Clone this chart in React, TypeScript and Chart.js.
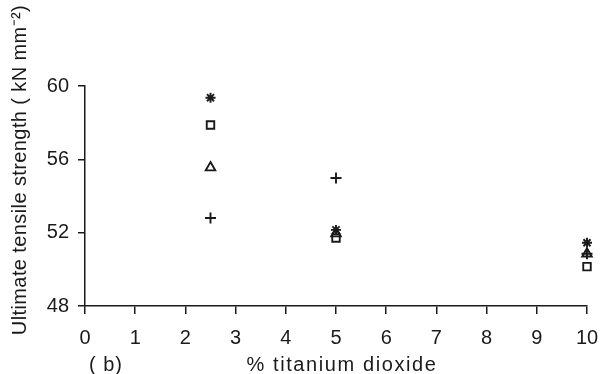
import React, { useEffect, useRef } from "react";
import { Chart, registerables } from "chart.js";

Chart.register(...registerables);

const xValues = [2.5, 5, 10];
const asteriskValues = [59.36, 52.15, 51.45];
const squareValues = [57.87, 51.71, 50.15];
const triangleValues = [55.55, 51.95, 50.85];
const plusValues = [52.8, 54.98, 50.85];

const xTicks = [0, 1, 2, 3, 4, 5, 6, 7, 8, 9, 10];
const yTicks = [48, 52, 56, 60];

const xTitle = "% titanium dioxide";
const yTitle = "Ultimate tensile strength ( kN mm\u207B\u00B2)";
const panelLabel = "( b)";

const FONT = "'Liberation Sans', Arial, Helvetica, sans-serif";
const INK = "#1a1a1a";

const pts = (ys: number[]) => xValues.map((x, i) => ({ x, y: ys[i] }));

export default function App() {
  const ref = useRef<HTMLCanvasElement | null>(null);

  useEffect(() => {
    if (!ref.current) return;
    const textPlugin = {
      id: "titles",
      afterDraw(chart: any) {
        const ctx = chart.ctx;
        const area = chart.chartArea;
        ctx.save();
        ctx.fillStyle = INK;
        ctx.textBaseline = "middle";
        ctx.font = `20px ${FONT}`;
        ctx.textAlign = "left";
        (ctx as any).letterSpacing = "1px";
        ctx.fillText(panelLabel, 89, 365);
        ctx.textAlign = "center";
        (ctx as any).letterSpacing = "1.6px";
        ctx.fillText(xTitle, (area.left + area.right) / 2 + 6, 365);
        (ctx as any).letterSpacing = "0.4px";
        ctx.translate(20, (area.top + area.bottom) / 2 - 26);
        ctx.rotate(-Math.PI / 2);
        ctx.fillText(yTitle, 0, 0);
        ctx.restore();
      },
    };
    const mk = (label: string, data: number[], style: any, r: number) => ({
      label,
      data: pts(data),
      pointStyle: style,
      pointRadius: r,
      pointBorderColor: INK,
      pointBackgroundColor: "rgba(0,0,0,0)",
      pointBorderWidth: 1.9,
      showLine: false,
      clip: false,
    });
    const chart = new Chart(ref.current, {
      type: "scatter",
      data: {
        datasets: [
          mk("asterisk", asteriskValues, "star", 5),
          mk("square", squareValues, "rect", 5.3),
          mk("triangle", triangleValues, "triangle", 5.5),
          mk("plus", plusValues, "cross", 5.5),
        ],
      },
      options: {
        animation: false,
        responsive: false,
        events: [],
        layout: { autoPadding: false, padding: { left: 0, right: 16, top: 86, bottom: 0 } },
        plugins: { legend: { display: false }, tooltip: { enabled: false } },
        scales: {
          x: {
            type: "linear",
            min: 0,
            max: 10,
            afterBuildTicks: (s: any) => {
              s.ticks = xTicks.map((v) => ({ value: v }));
            },
            afterFit: (s: any) => {
              s.height = 68;
              s.paddingLeft = 0;
              s.paddingRight = 0;
            },
            grid: { drawOnChartArea: false, drawTicks: true, tickLength: 8, color: INK, lineWidth: 1.5 },
            border: { display: true, color: INK, width: 1.5 },
            ticks: { color: INK, font: { family: FONT, size: 20 }, padding: 12, maxRotation: 0 },
          },
          y: {
            type: "linear",
            min: 48,
            max: 60,
            afterBuildTicks: (s: any) => {
              s.ticks = yTicks.map((v) => ({ value: v }));
            },
            afterFit: (s: any) => {
              s.width = 85;
              s.paddingTop = 0;
              s.paddingBottom = 0;
            },
            grid: { drawOnChartArea: false, drawTicks: true, tickLength: 7, color: INK, lineWidth: 1.5 },
            border: { display: true, color: INK, width: 1.5 },
            ticks: { color: INK, font: { family: FONT, size: 20 }, padding: 9 },
          },
        },
      },
      plugins: [textPlugin],
    } as any);
    return () => chart.destroy();
  }, []);

  return (
    <div style={{ position: "fixed", left: 0, top: 0, width: 603, height: 374, background: "#fff" }}>
      <canvas ref={ref} width={603} height={374} style={{ width: 603, height: 374 }} />
    </div>
  );
}
